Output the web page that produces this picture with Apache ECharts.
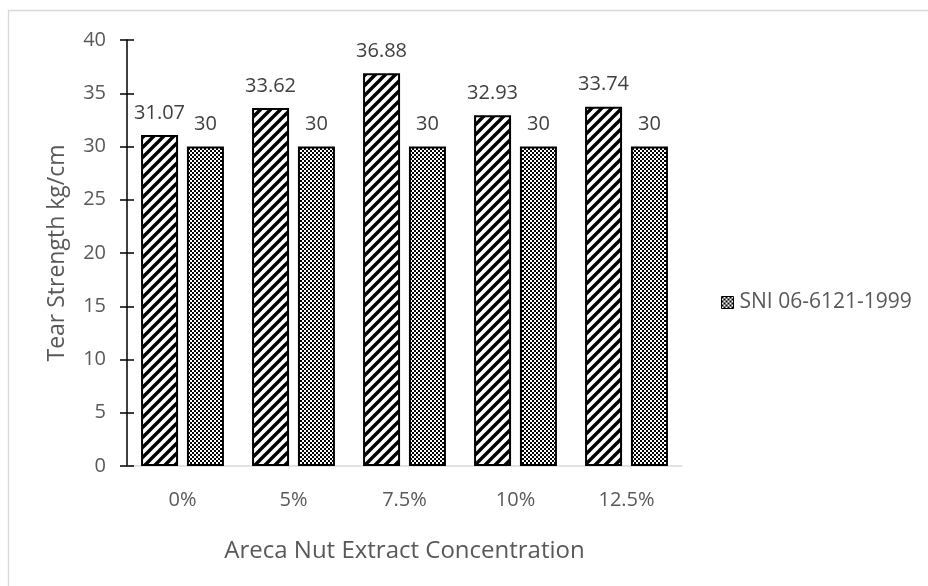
<!DOCTYPE html>
<html>
<head>
<meta charset="utf-8">
<script src="https://cdn.jsdelivr.net/npm/echarts@6/dist/echarts.min.js"></script>
<style>
html,body{margin:0;padding:0;background:#fff;}
#chart{width:928px;height:586px;}
</style>
</head>
<body>
<div id="chart"></div>
<script>
const categories = ['0%', '5%', '7.5%', '10%', '12.5%'];
const tearStrength = [31.07, 33.62, 36.88, 32.93, 33.74];
const sniStandard = [30, 30, 30, 30, 30];
const seriesNames = ['Tear Strength', 'SNI 06-6121-1999'];
const yTicks = { min: 0, max: 40, interval: 5 };

function stripePattern() {
  const s = 10;
  const c = document.createElement('canvas');
  c.width = s; c.height = s;
  const g = c.getContext('2d');
  g.fillStyle = '#fff'; g.fillRect(0, 0, s, s);
  g.strokeStyle = '#000'; g.lineWidth = 3.4;
  g.beginPath();
  g.moveTo(-2, s + 2); g.lineTo(s + 2, -2);
  g.moveTo(-3, 3); g.lineTo(3, -3);
  g.moveTo(s - 3, s + 3); g.lineTo(s + 3, s - 3);
  g.stroke();
  return c;
}
function checkPattern() {
  const c = document.createElement('canvas');
  c.width = 4; c.height = 4;
  const g = c.getContext('2d');
  g.fillStyle = '#fff'; g.fillRect(0, 0, 4, 4);
  g.fillStyle = '#000';
  g.fillRect(0, 0, 2, 2); g.fillRect(2, 2, 2, 2);
  return c;
}
const stripe = { image: stripePattern(), repeat: 'repeat' };
const check = { image: checkPattern(), repeat: 'repeat' };

const font = 'Open Sans';
const chart = echarts.init(document.getElementById('chart'));
chart.setOption({
  backgroundColor: '#fff',
  animation: false,
  textStyle: { fontFamily: font },
  graphic: [{
    type: 'rect', silent: true,
    shape: { x: 8.5, y: 10.5, width: 940, height: 600 },
    style: { fill: 'none', stroke: '#d9d9d9', lineWidth: 1.3 }
  }],
  grid: { left: 127, right: 246, top: 40, bottom: 120 },
  legend: {
    data: [seriesNames[1]],
    left: 716, top: 287,
    itemWidth: 12, itemHeight: 12, itemGap: 5,
    icon: 'rect',
    itemStyle: { color: check, borderColor: '#000', borderWidth: 1 },
    textStyle: { color: '#595959', fontSize: 21, fontFamily: font, padding: [0, 0, 0, 1] }
  },
  xAxis: {
    type: 'category',
    data: categories,
    axisLine: { lineStyle: { color: '#d9d9d9', width: 1.5 } },
    axisTick: { show: false },
    axisLabel: { color: '#595959', fontSize: 20, margin: 24 },
    name: 'Areca Nut Extract Concentration',
    nameLocation: 'middle',
    nameGap: 73,
    nameTextStyle: { color: '#595959', fontSize: 24 }
  },
  yAxis: [{
    type: 'value',
    min: yTicks.min, max: yTicks.max, interval: yTicks.interval,
    axisLine: { show: true, lineStyle: { color: '#000', width: 1.5 } },
    axisTick: { show: true, length: 7, lineStyle: { color: '#000', width: 1.5 } },
    splitLine: { show: false },
    axisLabel: { color: '#595959', fontSize: 20, margin: 21 },
    name: 'Tear Strength kg/cm',
    nameLocation: 'middle',
    nameGap: 58,
    nameTextStyle: { color: '#595959', fontSize: 23 }
  }, {
    type: 'value', position: 'left',
    min: yTicks.min, max: yTicks.max, interval: yTicks.interval,
    axisLine: { show: false },
    axisTick: { show: true, inside: true, length: 7, lineStyle: { color: '#000', width: 1.5 } },
    splitLine: { show: false },
    axisLabel: { show: false }
  }],
  series: [{
    name: seriesNames[0],
    type: 'bar',
    data: tearStrength,
    barWidth: 37,
    barGap: '24%',
    itemStyle: { color: stripe, borderColor: '#000', borderWidth: 2 },
    label: { show: true, position: 'top', distance: 12, color: '#404040', fontSize: 20, fontFamily: font }
  }, {
    name: seriesNames[1],
    type: 'bar',
    data: sniStandard,
    barWidth: 37,
    itemStyle: { color: check, borderColor: '#000', borderWidth: 2 },
    label: { show: true, position: 'top', distance: 12, color: '#404040', fontSize: 20, fontFamily: font }
  }]
});
</script>
</body>
</html>
